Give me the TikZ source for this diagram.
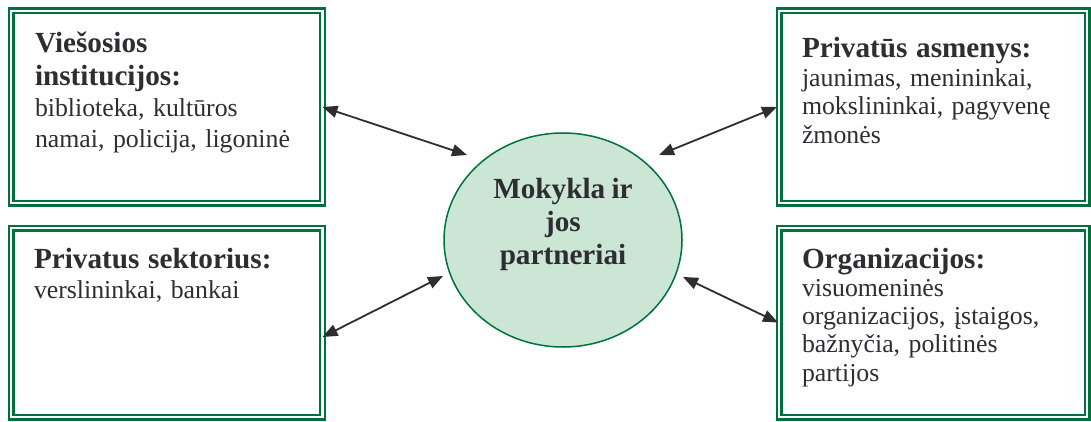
\documentclass[tikz,border=0pt]{standalone}
\usepackage{fontspec}
\setmainfont{Liberation Serif}
\usetikzlibrary{arrows.meta,calc,shapes.geometric}
\definecolor{boxgreen}{RGB}{0,112,62}
\definecolor{ellfill}{RGB}{204,230,213}
\definecolor{txt}{RGB}{45,45,50}
\tikzset{
  pbox/.style={draw=boxgreen, double=white, line width=2.4pt, double distance=2.2pt,
    rectangle, inner sep=0pt, outer sep=0pt},
  ptext/.style={anchor=base west, inner sep=0pt, outer sep=0pt, text=txt,
    text width=300pt, align=left},
  link/.style={draw=txt, line width=1.8pt, {Triangle[length=15pt,width=12pt]}-{Triangle[length=15pt,width=12pt]}},
}
\newcommand{\bodyfont}[1]{\fontsize{25.8}{#1}\selectfont\mdseries\spaceskip=0.33em plus 0.1em\relax}
\newcommand{\headfont}[1]{\fontsize{29.2}{#1}\selectfont\bfseries\spaceskip=0.3em plus 0.1em\relax}
\begin{document}
\begin{tikzpicture}[x=1pt,y=-1pt]
\useasboundingbox (0,0) rectangle (1091,422);
% boxes
\node[pbox, minimum width=311.5pt, minimum height=192pt] (tl) at (166.75,107) {};
\node[pbox, minimum width=311.5pt, minimum height=189pt] (bl) at (166.75,322.5) {};
\node[pbox, minimum width=308pt, minimum height=192pt] (tr) at (933,107) {};
\node[pbox, minimum width=308pt, minimum height=189pt] (br) at (933,322.5) {};
% centre
\node[ellipse, draw=boxgreen, fill=ellfill, line width=1.5pt, minimum width=238pt,
  minimum height=214pt, inner sep=0pt] (c) at (563,240) {};
\node[anchor=base, inner sep=0pt, text=txt, text width=220pt, align=center] (ct) at (563,198.3)
  {\headfont{33.3}\spaceskip=0.22em\relax Mokykla ir\\jos\\partneriai\par};
% texts
\node[ptext] (tlt) at (35,53) {\headfont{32.5}Viešosios\\institucijos:\par\bodyfont{30.8}biblioteka, kultūros\\namai, policija, ligoninė\par};
\node[ptext] (trt) at (802,58) {\headfont{28.5}Privatūs asmenys:\par\bodyfont{28.5}jaunimas, menininkai,\\mokslininkai, pagyvenę\\žmonės\par};
\node[ptext] (blt) at (34,268.3) {\headfont{30}Privatus sektorius:\par\bodyfont{30}verslininkai, bankai\par};
\node[ptext] (brt) at (802,268.3) {\headfont{28}Organizacijos:\par\bodyfont{28.2}visuomeninės\\organizacijos, įstaigos,\\bažnyčia, politinės\\partijos\par};
% connectors
\draw[link] (tl.east) -- ($(c.center)+(-96,-85)$);
\draw[link] ([xshift=-2pt]tr.west) -- ($(c.center)+(96,-85)$);
\draw[link] ($(c.center)+(-120,36)$) -- ($(bl.east)+(0,14.5)$);
\draw[link] ($(c.center)+(120,37)$) -- ([xshift=-1pt]br.west);
\end{tikzpicture}
\end{document}
